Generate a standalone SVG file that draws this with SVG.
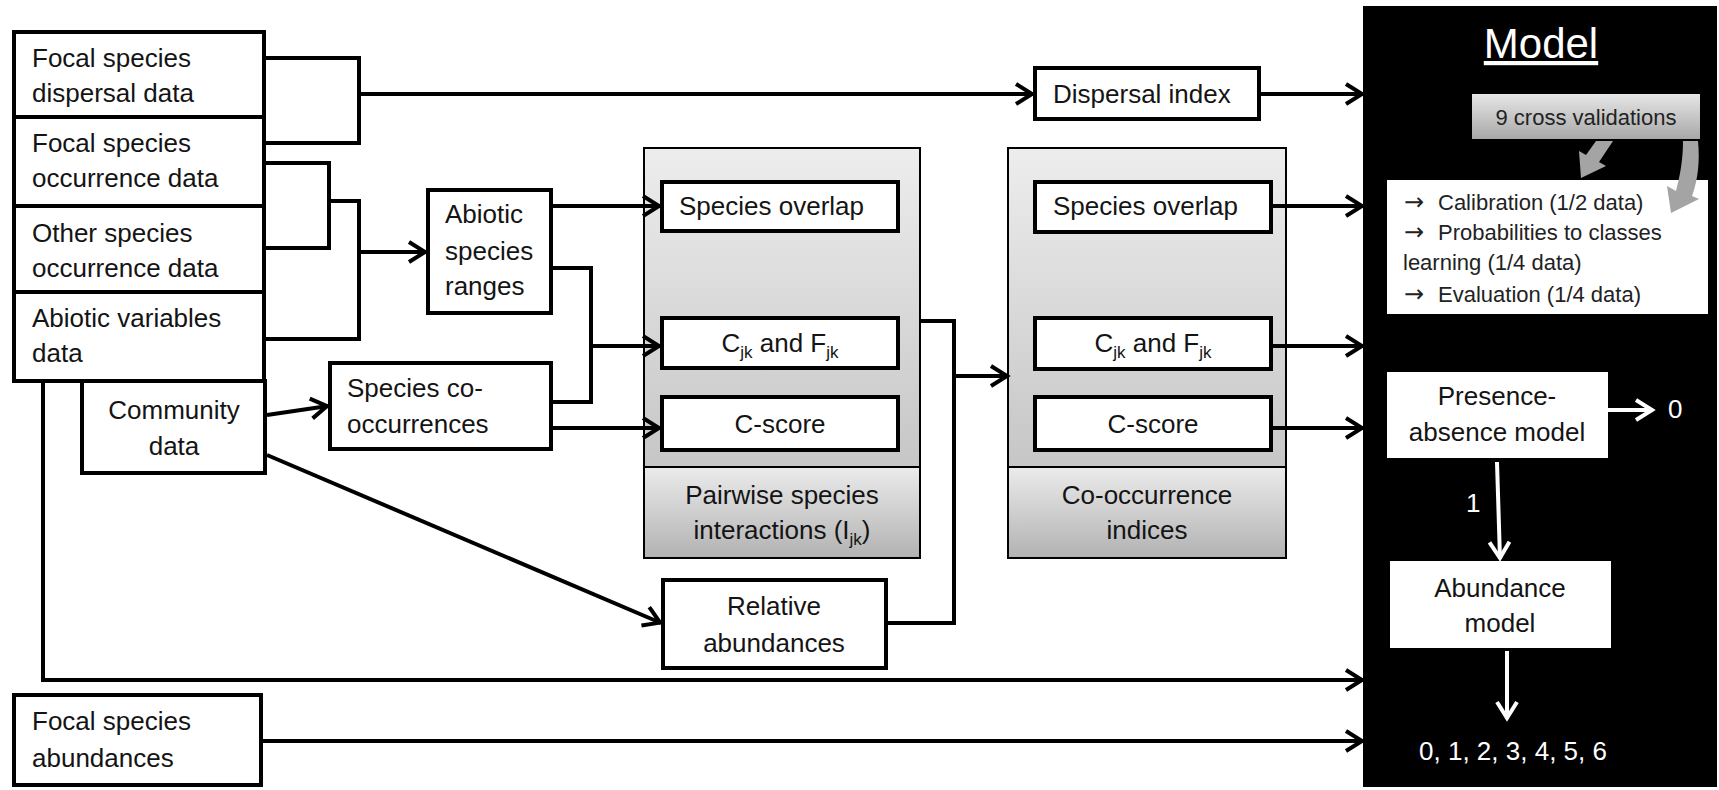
<svg xmlns="http://www.w3.org/2000/svg" width="1719" height="790" viewBox="0 0 1719 790">
<defs>
<style>
.box{fill:#fff;stroke:#000;stroke-width:4}
.panel{stroke:#000;stroke-width:2}
.wbox{fill:#fff}
.t{font-family:"Liberation Sans",Arial,sans-serif;font-size:26px;fill:#141414}
.tm{text-anchor:middle}
.ts{font-family:"Liberation Sans",Arial,sans-serif;font-size:22px;fill:#222}
.ar{font-family:"DejaVu Sans",sans-serif;font-size:24px}
.w{fill:#fff}
.c{fill:none;stroke:#000;stroke-width:4}
.cw{fill:none;stroke:#fff;stroke-width:4}
.ga{fill:#a4a4a4}
</style>
<linearGradient id="gUp" x1="0" y1="0" x2="0" y2="1">
<stop offset="0" stop-color="#ededed"/><stop offset="1" stop-color="#c6c6c6"/>
</linearGradient>
<linearGradient id="gLow" x1="0" y1="0" x2="0" y2="1">
<stop offset="0" stop-color="#ebebeb"/><stop offset="1" stop-color="#b2b2b2"/>
</linearGradient>
<linearGradient id="gCV" x1="0" y1="0" x2="0" y2="1">
<stop offset="0" stop-color="#e6e6e6"/><stop offset="1" stop-color="#a8a8a8"/>
</linearGradient>
<marker id="arr" markerUnits="userSpaceOnUse" markerWidth="24" markerHeight="28" viewBox="0 0 24 28" refX="21" refY="14" orient="auto">
<path d="M4,4 L20,14 L4,24" fill="none" stroke="#000" stroke-width="4"/>
</marker>
<marker id="arrw" markerUnits="userSpaceOnUse" markerWidth="24" markerHeight="28" viewBox="0 0 24 28" refX="21" refY="14" orient="auto">
<path d="M4,4 L20,14 L4,24" fill="none" stroke="#fff" stroke-width="4"/>
</marker>
</defs>
<rect width="1719" height="790" fill="#fff"/>

<!-- Model panel -->
<g id="model">
<rect x="1363" y="6" width="354" height="781" fill="#000"/>
<text x="1541" y="58" class="tm" font-family="Liberation Sans, Arial, sans-serif" font-size="42" fill="#fff" text-decoration="underline">Model</text>
</g>

<g id="steps">
<rect class="wbox" x="1387" y="180" width="321" height="134"/>
<text class="ts"><tspan class="ar" x="1404" y="210">→</tspan><tspan x="1438" y="210">Calibration (1/2 data)</tspan></text>
<text class="ts"><tspan class="ar" x="1404" y="240">→</tspan><tspan x="1438" y="240">Probabilities to classes</tspan></text>
<text class="ts" x="1403" y="270">learning (1/4 data)</text>
<text class="ts"><tspan class="ar" x="1404" y="302">→</tspan><tspan x="1438" y="302">Evaluation (1/4 data)</tspan></text>
</g>

<g id="cross-validations">
<rect x="1472" y="94" width="228" height="45" fill="url(#gCV)"/>
<text x="1586" y="125" class="ts tm" fill="#333">9 cross validations</text>
<polygon class="ga" points="1596,141 1613,141 1599,162 1606,166 1581,178 1579,151 1586,155"/>
<path class="ga" d="M1683,141 H1698 C1700,160 1698,180 1692,196 L1699,199 L1671,213 L1667,186 L1676,191 C1680,176 1683,160 1683,141 Z"/>
</g>

<g id="presence-absence">
<rect class="wbox" x="1387" y="372" width="221" height="86"/>
<text class="t tm" x="1497" y="405">Presence-</text>
<text class="t tm" x="1497" y="441">absence model</text>
</g>

<g id="abundance-model">
<rect class="wbox" x="1390" y="561" width="221" height="87"/>
<text class="t tm" x="1500" y="597">Abundance</text>
<text class="t tm" x="1500" y="632">model</text>
</g>

<g id="model-labels">
<text class="t w" x="1668" y="418">0</text>
<text class="t w" x="1466" y="512">1</text>
<text class="t w tm" x="1513" y="760">0, 1, 2, 3, 4, 5, 6</text>
</g>

<!-- Left stack -->
<g id="focal-dispersal">
<rect class="box" x="14" y="32" width="250" height="85"/>
<text class="t" x="32" y="67">Focal species</text>
<text class="t" x="32" y="102">dispersal data</text>
</g>
<g id="focal-occurrence">
<rect class="box" x="14" y="117" width="250" height="89"/>
<text class="t" x="32" y="152">Focal species</text>
<text class="t" x="32" y="187">occurrence data</text>
</g>
<g id="other-occurrence">
<rect class="box" x="14" y="206" width="250" height="86"/>
<text class="t" x="32" y="242">Other species</text>
<text class="t" x="32" y="277">occurrence data</text>
</g>
<g id="abiotic-variables">
<rect class="box" x="14" y="292" width="250" height="89"/>
<text class="t" x="32" y="327">Abiotic variables</text>
<text class="t" x="32" y="362">data</text>
</g>
<g id="community">
<rect class="box" x="82" y="381" width="183" height="92"/>
<text class="t tm" x="174" y="419">Community</text>
<text class="t tm" x="174" y="455">data</text>
</g>
<g id="focal-abundances">
<rect class="box" x="14" y="695" width="247" height="90"/>
<text class="t" x="32" y="730">Focal species</text>
<text class="t" x="32" y="767">abundances</text>
</g>

<g id="abiotic-ranges">
<rect class="box" x="428" y="190" width="123" height="123"/>
<text class="t" x="445" y="223">Abiotic</text>
<text class="t" x="445" y="260">species</text>
<text class="t" x="445" y="295">ranges</text>
</g>
<g id="species-cooccurrences">
<rect class="box" x="330" y="363" width="221" height="86"/>
<text class="t" x="347" y="397">Species co-</text>
<text class="t" x="347" y="433">occurrences</text>
</g>

<g id="dispersal-index">
<rect class="box" x="1035" y="68" width="224" height="51"/>
<text class="t" x="1053" y="103">Dispersal index</text>
</g>

<!-- Pairwise panel -->
<g id="pairwise">
<rect class="panel" x="644" y="148" width="276" height="319" fill="url(#gUp)"/>
<rect class="panel" x="644" y="467" width="276" height="91" fill="url(#gLow)"/>
<text class="t tm" x="782" y="504">Pairwise species</text>
<text class="t tm" x="782" y="539">interactions (I<tspan font-size="17" dy="6">jk</tspan><tspan dy="-6">)</tspan></text>
</g>
<g id="pw-overlap">
<rect class="box" x="662" y="182" width="236" height="49"/>
<text class="t" x="679" y="215">Species overlap</text>
</g>
<g id="pw-cjk">
<rect class="box" x="662" y="318" width="236" height="50"/>
<text class="t tm" x="780" y="352">C<tspan font-size="17" dy="6">jk</tspan><tspan dy="-6"> and F</tspan><tspan font-size="17" dy="6">jk</tspan></text>
</g>
<g id="pw-cscore">
<rect class="box" x="662" y="397" width="236" height="53"/>
<text class="t tm" x="780" y="433">C-score</text>
</g>

<g id="relative-abundances">
<rect class="box" x="663" y="580" width="223" height="88"/>
<text class="t tm" x="774" y="615">Relative</text>
<text class="t tm" x="774" y="652">abundances</text>
</g>

<!-- Co-occurrence panel -->
<g id="cooccurrence">
<rect class="panel" x="1008" y="148" width="278" height="319" fill="url(#gUp)"/>
<rect class="panel" x="1008" y="467" width="278" height="91" fill="url(#gLow)"/>
<text class="t tm" x="1147" y="504">Co-occurrence</text>
<text class="t tm" x="1147" y="539">indices</text>
</g>
<g id="co-overlap">
<rect class="box" x="1035" y="182" width="236" height="50"/>
<text class="t" x="1053" y="215">Species overlap</text>
</g>
<g id="co-cjk">
<rect class="box" x="1035" y="318" width="236" height="51"/>
<text class="t tm" x="1153" y="352">C<tspan font-size="17" dy="6">jk</tspan><tspan dy="-6"> and F</tspan><tspan font-size="17" dy="6">jk</tspan></text>
</g>
<g id="co-cscore">
<rect class="box" x="1035" y="397" width="236" height="53"/>
<text class="t tm" x="1153" y="433">C-score</text>
</g>

<!-- Connectors -->
<g id="connectors">
<path class="c" d="M266,58 H359 V143 H266"/>
<path class="c" d="M359,94 H1033" marker-end="url(#arr)"/>
<path class="c" d="M1261,94 H1363" marker-end="url(#arr)"/>
<path class="c" d="M266,163 H329 V248 H266"/>
<path class="c" d="M329,201 H359 V339 H266"/>
<path class="c" d="M359,252 H426" marker-end="url(#arr)"/>
<path class="c" d="M553,206 H660" marker-end="url(#arr)"/>
<path class="c" d="M553,268 H591 V402 H553"/>
<path class="c" d="M591,346 H660" marker-end="url(#arr)"/>
<path class="c" d="M553,428 H660" marker-end="url(#arr)"/>
<path class="c" d="M267,415 L328,406" marker-end="url(#arr)"/>
<path class="c" d="M267,455 L661,623" marker-end="url(#arr)"/>
<path class="c" d="M920,321 H954 V623 H888"/>
<path class="c" d="M954,376 H1008" marker-end="url(#arr)"/>
<path class="c" d="M1273,206 H1363" marker-end="url(#arr)"/>
<path class="c" d="M1273,346 H1363" marker-end="url(#arr)"/>
<path class="c" d="M1273,428 H1363" marker-end="url(#arr)"/>
<path class="c" d="M43,383 V680 H1363" marker-end="url(#arr)"/>
<path class="c" d="M263,741 H1363" marker-end="url(#arr)"/>
<path class="cw" d="M1608,410 H1653" marker-end="url(#arrw)"/>
<path class="cw" d="M1497,462 L1500,559" marker-end="url(#arrw)"/>
<path class="cw" d="M1507,651 V719" marker-end="url(#arrw)"/>
</g>
</svg>
